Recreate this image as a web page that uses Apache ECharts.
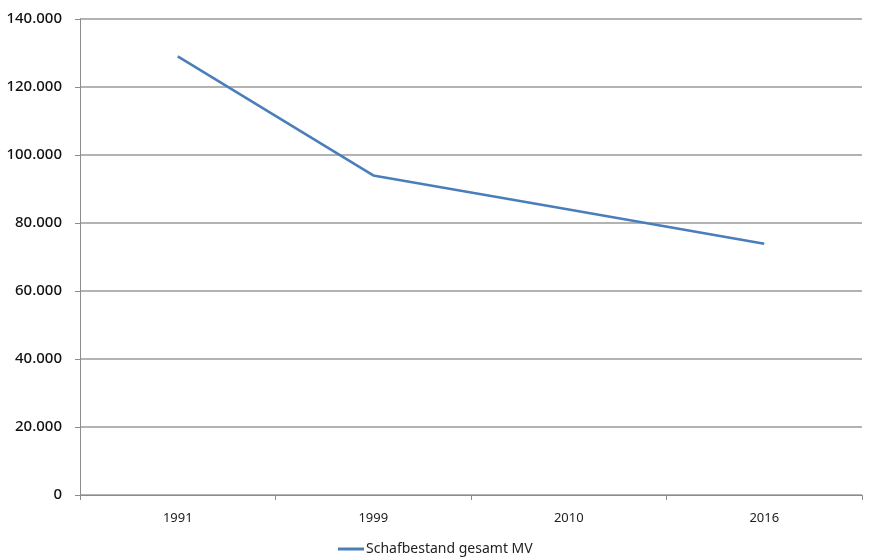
<!DOCTYPE html>
<html>
<head>
<meta charset="utf-8">
<script src="https://cdn.jsdelivr.net/npm/echarts@6/dist/echarts.min.js"></script>
<style>
  html, body { margin: 0; padding: 0; background: #fff; }
  #chart { width: 871px; height: 558px; }
</style>
</head>
<body>
<div id="chart"></div>
<script>
// Sheep stock in Mecklenburg-Vorpommern by survey year
const years = ['1991', '1999', '2010', '2016'];
const sheepTotal = [129000, 94000, 84000, 73900];
const seriesName = 'Schafbestand gesamt MV';

const yMin = 0;
const yMax = 140000;
const yStep = 20000;

// German thousands separator: 140000 -> "140.000"
function formatDe(v) {
  return String(v).replace(/\B(?=(\d{3})+(?!\d))/g, '.');
}

const chart = echarts.init(document.getElementById('chart'), null, { renderer: 'canvas' });
chart.setOption({
  animation: false,
  textStyle: { fontFamily: 'Noto Sans' },
  grid: { left: 80, right: 9, top: 19, bottom: 63, containLabel: false },
  legend: {
    data: [seriesName],
    top: 537,
    left: 333,
    itemWidth: 26,
    itemHeight: 3,
    itemGap: 4,
    textStyle: { fontSize: 14, color: '#222', padding: [0, 0, 0, -3] },
    icon: 'rect'
  },
  xAxis: {
    type: 'category',
    data: years,
    boundaryGap: true,
    axisLine: { lineStyle: { color: '#8c8c8c', width: 1 } },
    axisTick: { show: true, alignWithLabel: false, length: 5, lineStyle: { color: '#8c8c8c' } },
    axisLabel: { fontSize: 13, color: '#222', margin: 17 },
    splitLine: { show: false }
  },
  yAxis: {
    type: 'value',
    min: yMin,
    max: yMax,
    interval: yStep,
    axisLine: { show: true, lineStyle: { color: '#8c8c8c', width: 1 } },
    axisTick: { show: true, length: 5, lineStyle: { color: '#8c8c8c' } },
    axisLabel: { fontSize: 15, color: '#111', fontWeight: 500, margin: 18, formatter: formatDe },
    splitLine: { show: true, lineStyle: { color: '#9a9a9a', width: 1.5 } }
  },
  series: [{
    name: seriesName,
    type: 'line',
    data: sheepTotal,
    symbol: 'none',
    lineStyle: { color: '#4a7ebb', width: 2.5 },
    itemStyle: { color: '#4a7ebb' }
  }]
});
</script>
</body>
</html>
